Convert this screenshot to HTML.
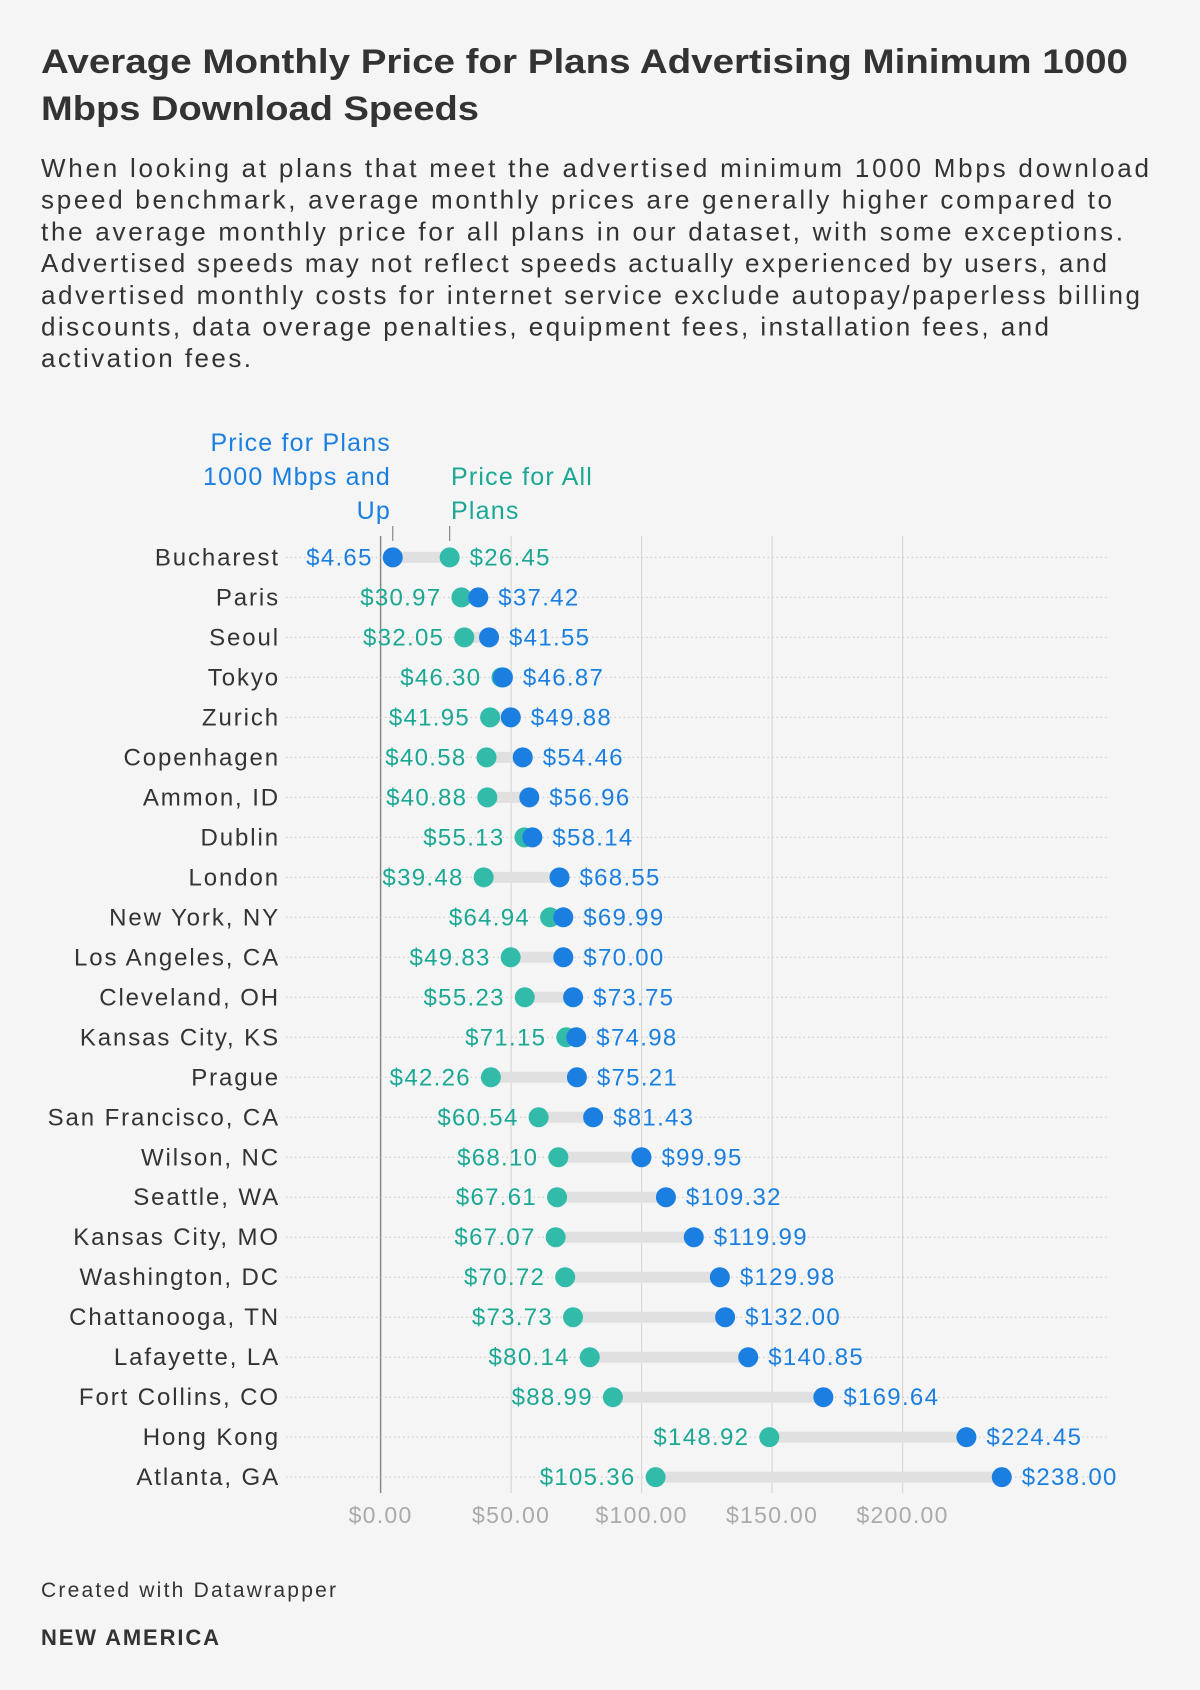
<!DOCTYPE html>
<html><head><meta charset="utf-8"><style>
body{margin:0;background:#f5f5f5;font-family:"Liberation Sans",sans-serif;}
#wrap{position:relative;width:1200px;height:1690px;background:#f5f5f5;overflow:hidden;}
svg text{font-family:"Liberation Sans",sans-serif;}
</style></head><body>
<div id="wrap">
<svg id="chart" width="1200" height="1690" style="position:absolute;left:0;top:0">
<g font-size="34" font-weight="bold" fill="#333">
<text x="41" y="73" textLength="1087" lengthAdjust="spacingAndGlyphs">Average Monthly Price for Plans Advertising Minimum 1000</text>
<text x="41" y="120" textLength="438" lengthAdjust="spacingAndGlyphs">Mbps Download Speeds</text>
</g>
<g font-size="26" fill="#333">
<text x="41" y="177" textLength="1108" lengthAdjust="spacing">When looking at plans that meet the advertised minimum 1000 Mbps download</text>
<text x="41" y="208.7" textLength="1071" lengthAdjust="spacing">speed benchmark, average monthly prices are generally higher compared to</text>
<text x="41" y="240.4" textLength="1082" lengthAdjust="spacing">the average monthly price for all plans in our dataset, with some exceptions.</text>
<text x="41" y="272.1" textLength="1066" lengthAdjust="spacing">Advertised speeds may not reflect speeds actually experienced by users, and</text>
<text x="41" y="303.8" textLength="1099" lengthAdjust="spacing">advertised monthly costs for internet service exclude autopay/paperless billing</text>
<text x="41" y="335.5" textLength="1008" lengthAdjust="spacing">discounts, data overage penalties, equipment fees, installation fees, and</text>
<text x="41" y="367.2" textLength="210" lengthAdjust="spacing">activation fees.</text>
</g>
<text x="41" y="1597" font-size="21" fill="#333" textLength="295" lengthAdjust="spacing">Created with Datawrapper</text>
<text x="41" y="1645" font-size="22" font-weight="bold" fill="#333" textLength="178" lengthAdjust="spacing">NEW AMERICA</text>
</svg>
</div>
<script>
const cities=["Bucharest","Paris","Seoul","Tokyo","Zurich","Copenhagen","Ammon, ID","Dublin","London","New York, NY","Los Angeles, CA","Cleveland, OH","Kansas City, KS","Prague","San Francisco, CA","Wilson, NC","Seattle, WA","Kansas City, MO","Washington, DC","Chattanooga, TN","Lafayette, LA","Fort Collins, CO","Hong Kong","Atlanta, GA"];
const gigPrice=[4.65,37.42,41.55,46.87,49.88,54.46,56.96,58.14,68.55,69.99,70.00,73.75,74.98,75.21,81.43,99.95,109.32,119.99,129.98,132.00,140.85,169.64,224.45,238.00];
const allPrice=[26.45,30.97,32.05,46.30,41.95,40.58,40.88,55.13,39.48,64.94,49.83,55.23,71.15,42.26,60.54,68.10,67.61,67.07,70.72,73.73,80.14,88.99,148.92,105.36];
const ticks=[0,50,100,150,200];
const tickLabels=["$0.00","$50.00","$100.00","$150.00","$200.00"];

const NS="http://www.w3.org/2000/svg";
const svg=document.getElementById('chart');
const x=v=>380.6+v*2.61;
const y=i=>557.4+i*39.99;
const BLUE="#1a7fe0",TEAL="#32bba9",TEALT="#1aa894";
const LS="1.3px";
function mk(t,a,p){const e=document.createElementNS(NS,t);for(const k in a)e.setAttribute(k,a[k]);(p||svg).appendChild(e);return e;}
const fmt=v=>"$"+v.toFixed(2);

ticks.forEach((t,i)=>{
  const g=mk('line',{x1:x(t),x2:x(t),y1:536,y2:1493,stroke:i==0?'#888':'#d8d8d8','stroke-width':i==0?1.5:1.2});
  
  
  const tl=mk('text',{x:x(t),y:1523,'text-anchor':'middle','font-size':23,fill:'#aaa','letter-spacing':LS});
  tl.textContent=tickLabels[i];
  
  
});
[["Price for Plans",451],["1000 Mbps and",485],["Up",519]].forEach(l=>{const t=mk('text',{x:391,y:l[1],'text-anchor':'end','font-size':25,fill:BLUE,'letter-spacing':'1.2px'});t.textContent=l[0];

});
[["Price for All",485],["Plans",519]].forEach(l=>{const t=mk('text',{x:451,y:l[1],'font-size':25,fill:TEALT,'letter-spacing':'1.2px'});t.textContent=l[0];

});
mk('line',{x1:x(gigPrice[0]),x2:x(gigPrice[0]),y1:526,y2:541,stroke:'#888','stroke-width':1.2});
mk('line',{x1:x(allPrice[0]),x2:x(allPrice[0]),y1:526,y2:541,stroke:'#888','stroke-width':1.2});

cities.forEach((c,i)=>{
  const yy=y(i);
  const rl=mk('line',{x1:286,x2:1108,y1:yy,y2:yy,stroke:'#c8c8c8','stroke-width':1,'stroke-dasharray':'1.5,3'});
  
  
  const ct=mk('text',{x:280,y:yy+8,'text-anchor':'end','font-size':24,fill:'#333','letter-spacing':'1.9px'});
  ct.textContent=c;
  
  
  const g=gigPrice[i],a=allPrice[i];
  const bar=mk('line',{x1:x(Math.min(g,a)),x2:x(Math.max(g,a)),y1:yy,y2:yy,stroke:'#e0e0e0','stroke-width':11});
  
  
  const da=mk('circle',{cx:x(a),cy:yy,r:10,fill:TEAL});
  
  
  const dg=mk('circle',{cx:x(g),cy:yy,r:10,fill:BLUE});
  
  
  const lo=Math.min(g,a),hi=Math.max(g,a);
  const loIsG=g<a;
  const t1=mk('text',{x:x(lo)-20,y:yy+8,'text-anchor':'end','font-size':24,fill:loIsG?BLUE:TEALT,'letter-spacing':LS});
  t1.textContent=fmt(lo);
  
  
  const t2=mk('text',{x:x(hi)+20,y:yy+8,'font-size':24,fill:loIsG?TEALT:BLUE,'letter-spacing':LS});
  t2.textContent=fmt(hi);
  
  
});
</script>
</body></html>
